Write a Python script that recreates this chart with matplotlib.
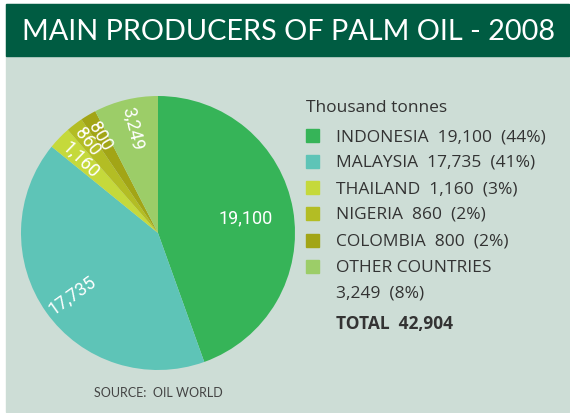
import numpy as np
import matplotlib
matplotlib.use("Agg")
import matplotlib.pyplot as plt
from matplotlib.patches import Rectangle

# Palm oil production 2008, thousand tonnes
countries = ["INDONESIA", "MALAYSIA", "THAILAND", "NIGERIA", "COLOMBIA", "OTHER COUNTRIES"]
volumes = [19100, 17735, 1160, 860, 800, 3249]
shares = [44, 41, 3, 2, 2, 8]
colors = ["#36B458", "#5EC4B7", "#C5D93B", "#B3BD24", "#A2A516", "#9CCD68"]
total = 42904

W, H = 570, 414
fig = plt.figure(figsize=(W / 100, H / 100), dpi=100)
fig.patch.set_facecolor("white")

def px(x, y):
    return x / W, 1 - y / H

# panel and title bar
fig.patches.append(Rectangle((6 / W, 1 - 413 / H), 563 / W, 408 / H,
                             transform=fig.transFigure, color="#CDDDD6", zorder=-2))
fig.patches.append(Rectangle((6 / W, 1 - 57 / H), 563 / W, 52 / H,
                             transform=fig.transFigure, color="#005C42", zorder=-1))
fig.text(*px(22, 32), "MAIN PRODUCERS OF PALM OIL - 2008", color="white",
         fontsize=20.8, family="Lato", ha="left", va="center")

# pie
cx, cy, r = 158, 234, 137
ax = fig.add_axes([(cx - r) / W, 1 - (cy + r) / H, 2 * r / W, 2 * r / H])
ax.set_zorder(5)
ax.patch.set_visible(False)
wedges, _ = ax.pie(volumes, colors=colors, startangle=90, counterclock=False,
                   wedgeprops=dict(linewidth=0))
ax.set_xlim(-1, 1)
ax.set_ylim(-1, 1)
ax.set_aspect("auto")
ax.axis("off")

label_r = [0.65, 0.77, 0.78, 0.85, 0.83, 0.79]
for i, (w, v) in enumerate(zip(wedges, volumes)):
    mid = np.deg2rad((w.theta1 + w.theta2) / 2)
    x, y = label_r[i] * np.cos(mid), label_r[i] * np.sin(mid)
    rot = 0 if i == 0 else np.rad2deg(mid) - 180
    ax.text(x, y, f"{v:,}", color="white", fontsize=13, family="Roboto",
            ha="center", va="center", rotation=rot, rotation_mode="anchor")

# legend
txt = "#333333"
lf = "Open Sans"
fig.text(*px(306, 108), "Thousand tonnes", color=txt, fontsize=12.5,
         family=lf, ha="left", va="center")
rows = [137, 163, 189, 215, 242, 268]
for y, c, name, v, s in zip(rows, colors, countries, volumes, shares):
    fig.patches.append(Rectangle((306 / W, 1 - (y + 6) / H), 13 / W, 13 / H,
                                 transform=fig.transFigure, color=c, zorder=2))
    if name == "OTHER COUNTRIES":
        fig.text(*px(336, y), name, color=txt, fontsize=12.5, family=lf,
                 ha="left", va="center")
        fig.text(*px(336, y + 25), f"{v:,}  ({s}%)", color=txt, fontsize=12.5,
                 family=lf, ha="left", va="center")
    else:
        fig.text(*px(336, y), f"{name}  {v:,}  ({s}%)", color=txt, fontsize=12.5,
                 family=lf, ha="left", va="center")
fig.text(*px(336, 324), f"TOTAL  {total:,}", color=txt, fontsize=12.5,
         family=lf, weight="bold", ha="left", va="center")

fig.text(*px(94, 393), "SOURCE:  OIL WORLD", color="#444444", fontsize=9,
         family="Lato", ha="left", va="center")

fig.savefig("out.png", dpi=100)
